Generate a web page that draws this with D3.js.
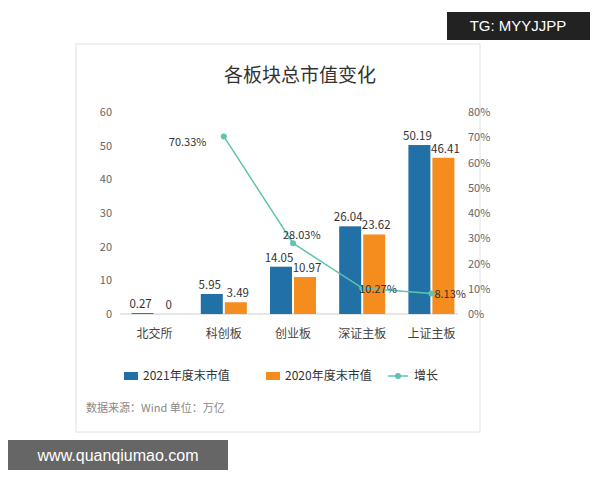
<!DOCTYPE html>
<html><head><meta charset="utf-8">
<script src="https://cdn.jsdelivr.net/npm/d3@7"></script>
<style>body{margin:0;background:#fff;font-family:"Noto Sans CJK SC",sans-serif}</style>
</head><body><svg width="600" height="480"></svg>
<script>
let categories = ["北交所", "科创板", "创业板", "深证主板", "上证主板"];
let v2021 = [0.27, 5.95, 14.05, 26.04, 50.19];
let v2020 = [0, 3.49, 10.97, 23.62, 46.41];
let growth = [null, 70.33, 28.03, 10.27, 8.13];
let leftTicks = [0, 10, 20, 30, 40, 50, 60];
let rightTicks = [0, 10, 20, 30, 40, 50, 60, 70, 80];

let svg = d3.select("svg");
let blue = "#2271a6", orange = "#f48c1e", teal = "#5ec4b0";

svg.append("rect").attr("x", 76).attr("y", 44).attr("width", 404).attr("height", 388)
    .attr("fill", "#fff").attr("stroke", "#e2e2e2");

svg.append("text").attr("x", 300).attr("y", 82).attr("text-anchor", "middle")
    .attr("font-size", 19).attr("fill", "#333").text("各板块总市值变化");

let plotTop = 112, plotBottom = 314;
let x = d3.scaleBand().domain(categories).range([120, 466]);
let y = d3.scaleLinear().domain([0, 60]).range([plotBottom, plotTop]);
let y2 = d3.scaleLinear().domain([0, 80]).range([plotBottom, plotTop]);

svg.append("g").selectAll("text").data(leftTicks).enter().append("text")
    .attr("x", 112).attr("y", d => y(d) + 4).attr("text-anchor", "end")
    .attr("font-size", 11).attr("fill", "#666").text(d => d);
svg.append("g").selectAll("text").data(rightTicks).enter().append("text")
    .attr("x", 468).attr("y", d => y2(d) + 4)
    .attr("font-size", 11).attr("fill", "#666").text(d => d + "%");

svg.append("line").attr("x1", 120).attr("x2", 458).attr("y1", plotBottom).attr("y2", plotBottom)
    .attr("stroke", "#ccc");

let bw = 22;
let g = svg.append("g");
categories.forEach((c, i) => {
    let cx = x(c) + x.bandwidth() / 2;
    g.append("rect").attr("x", cx - bw - 1).attr("width", bw)
        .attr("y", y(v2021[i])).attr("height", plotBottom - y(v2021[i])).attr("fill", blue);
    g.append("rect").attr("x", cx + 1).attr("width", bw)
        .attr("y", y(v2020[i])).attr("height", plotBottom - y(v2020[i])).attr("fill", orange);
    g.append("text").attr("x", cx - bw / 2 - 3).attr("y", y(v2021[i]) - 5).attr("text-anchor", "middle")
        .attr("font-size", 11.5).attr("fill", "#333").text(v2021[i]);
    g.append("text").attr("x", cx + bw / 2 + 3).attr("y", y(v2020[i]) - 5).attr("text-anchor", "middle")
        .attr("font-size", 11.5).attr("fill", "#333").text(v2020[i]);
    g.append("text").attr("x", cx).attr("y", plotBottom + 24).attr("text-anchor", "middle")
        .attr("font-size", 12).attr("fill", "#444").text(c);
});

let pts = categories.map((c, i) => ({ x: x(c) + x.bandwidth() / 2, v: growth[i] })).filter(d => d.v != null);
svg.append("path").attr("fill", "none").attr("stroke", teal).attr("stroke-width", 1.5)
    .attr("d", d3.line().x(d => d.x).y(d => y2(d.v))(pts));
svg.append("g").selectAll("circle").data(pts).enter().append("circle")
    .attr("cx", d => d.x).attr("cy", d => y2(d.v)).attr("r", 3).attr("fill", teal);
let lblOff = [[-55, 10], [-10, -4], [-3, 5], [3, 5]];
svg.append("g").selectAll("text").data(pts).enter().append("text")
    .attr("x", (d, i) => d.x + lblOff[i][0]).attr("y", (d, i) => y2(d.v) + lblOff[i][1])
    .attr("font-size", 11).attr("fill", "#333").text(d => d.v.toFixed(2) + "%");

let ly = 378;
svg.append("rect").attr("x", 124).attr("y", ly - 6).attr("width", 14).attr("height", 8).attr("fill", blue);
svg.append("text").attr("x", 143).attr("y", ly + 2).attr("font-size", 12).attr("fill", "#333").text("2021年度末市值");
svg.append("rect").attr("x", 266).attr("y", ly - 6).attr("width", 14).attr("height", 8).attr("fill", orange);
svg.append("text").attr("x", 285).attr("y", ly + 2).attr("font-size", 12).attr("fill", "#333").text("2020年度末市值");
svg.append("line").attr("x1", 388).attr("x2", 408).attr("y1", ly - 2).attr("y2", ly - 2).attr("stroke", teal).attr("stroke-width", 1.5);
svg.append("circle").attr("cx", 398).attr("cy", ly - 2).attr("r", 3).attr("fill", teal);
svg.append("text").attr("x", 414).attr("y", ly + 2).attr("font-size", 12).attr("fill", "#333").text("增长");

svg.append("text").attr("x", 86).attr("y", 412).attr("font-size", 11).attr("fill", "#888")
    .text("数据来源：Wind   单位：万亿");

svg.append("rect").attr("x", 447).attr("y", 12).attr("width", 143).attr("height", 28).attr("fill", "#222");
svg.append("text").attr("x", 518).attr("y", 31).attr("text-anchor", "middle").attr("font-size", 15)
    .attr("fill", "#fff").attr("font-family", "Liberation Sans, sans-serif").text("TG: MYYJJPP");
svg.append("rect").attr("x", 8).attr("y", 440).attr("width", 220).attr("height", 30).attr("fill", "#666");
svg.append("text").attr("x", 118).attr("y", 461).attr("text-anchor", "middle").attr("font-size", 16)
    .attr("fill", "#fff").attr("font-family", "Liberation Sans, sans-serif").text("www.quanqiumao.com");
</script></body></html>
